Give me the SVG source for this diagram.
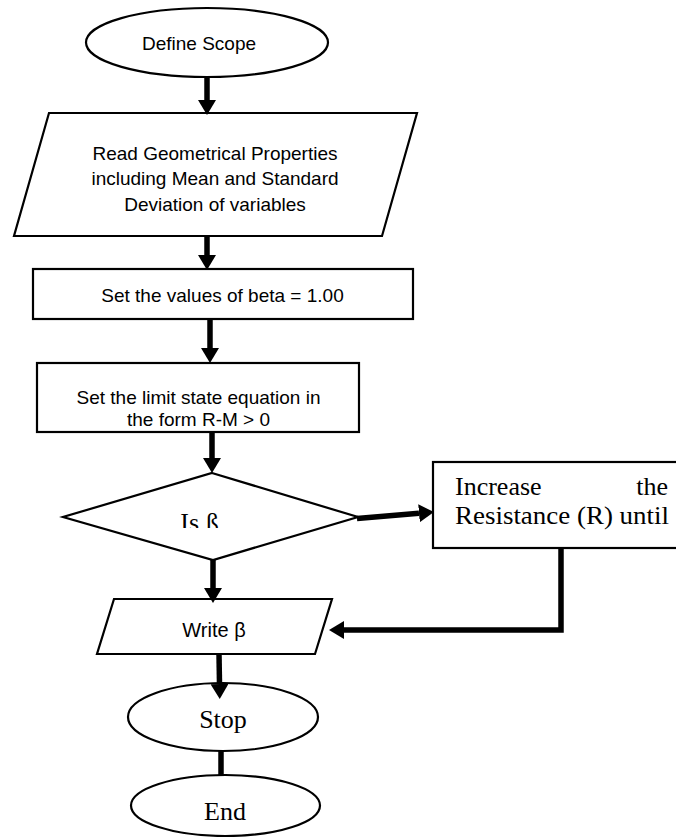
<svg xmlns="http://www.w3.org/2000/svg" width="676" height="837" viewBox="0 0 676 837">
<style>
.shape{fill:#fff;stroke:#000;stroke-width:2.2}
.conn{fill:none;stroke:#000;stroke-width:5.5}
.sans{font-family:"Liberation Sans",Arial,sans-serif;font-size:19px;fill:#000}
.serif{font-family:"Liberation Serif","Times New Roman",serif;font-size:26px;fill:#000}
</style>
<defs>
<marker id="ah" markerUnits="userSpaceOnUse" markerWidth="16" markerHeight="18" refX="0" refY="9" orient="auto" viewBox="0 0 16 18">
<path d="M0,0 L15,9 L0,18 Z" fill="#000"/>
</marker>
<clipPath id="clipIs"><rect x="150" y="500" width="100" height="28"/></clipPath>
</defs>
<rect width="676" height="837" fill="#fff"/>
<g id="define-scope">
<ellipse class="shape" cx="207" cy="42.5" rx="121" ry="34.5"/>
<text class="sans" x="199" y="50" text-anchor="middle">Define Scope</text>
</g>
<g id="read-properties">
<polygon class="shape" points="49,113 417,113 382,236 14,236"/>
<text class="sans" x="215" y="160" text-anchor="middle">Read Geometrical Properties</text>
<text class="sans" x="215" y="185" text-anchor="middle">including Mean and Standard</text>
<text class="sans" x="215" y="211" text-anchor="middle">Deviation of variables</text>
</g>
<g id="set-beta">
<rect class="shape" x="33" y="269" width="380" height="50"/>
<text class="sans" x="222.5" y="302" text-anchor="middle">Set the values of beta = 1.00</text>
</g>
<g id="limit-state">
<rect class="shape" x="37" y="363" width="322" height="69"/>
<text class="sans" x="198.5" y="404" text-anchor="middle">Set the limit state equation in</text>
<text class="sans" x="198.5" y="426" text-anchor="middle">the form R-M &gt; 0</text>
</g>
<g id="decision">
<polygon class="shape" points="212,473 358,517 213,560 63,517"/>
<text class="serif" x="199.5" y="531" text-anchor="middle" clip-path="url(#clipIs)">Is ß</text>
</g>
<g id="increase">
<rect class="shape" x="433" y="462" width="260" height="86"/>
<text class="serif" x="455" y="495">Increase</text>
<text class="serif" x="668" y="495" text-anchor="end">the</text>
<text class="serif" x="455" y="524" textLength="214" lengthAdjust="spacingAndGlyphs">Resistance (R) until</text>
</g>
<g id="write">
<polygon class="shape" points="114,599 332,599 315,654 97,654"/>
<text class="sans" x="214" y="637" text-anchor="middle" style="font-size:20px">Write β</text>
</g>
<g id="stop">
<ellipse class="shape" cx="223" cy="717" rx="95" ry="34"/>
<text class="serif" x="223" y="728" text-anchor="middle">Stop</text>
</g>
<g id="end">
<ellipse class="shape" cx="225.5" cy="805.5" rx="94.5" ry="30.5"/>
<text class="serif" x="225" y="820" text-anchor="middle">End</text>
</g>
<g id="connectors">
<line class="conn" x1="207" y1="77" x2="207" y2="100" marker-end="url(#ah)"/>
<line class="conn" x1="207" y1="236" x2="207" y2="255" marker-end="url(#ah)"/>
<line class="conn" x1="210" y1="319" x2="210" y2="348" marker-end="url(#ah)"/>
<line class="conn" x1="212" y1="432" x2="212" y2="458" marker-end="url(#ah)"/>
<line class="conn" x1="357" y1="518.5" x2="419" y2="513.3" marker-end="url(#ah)"/>
<line class="conn" x1="213" y1="560" x2="213" y2="588" marker-end="url(#ah)"/>
<line class="conn" x1="219" y1="654" x2="219.5" y2="684" marker-end="url(#ah)"/>
<line class="conn" x1="221" y1="751" x2="221" y2="775"/>
<polyline class="conn" points="561,548 561,630 344,630" marker-end="url(#ah)"/>
</g>
</svg>
